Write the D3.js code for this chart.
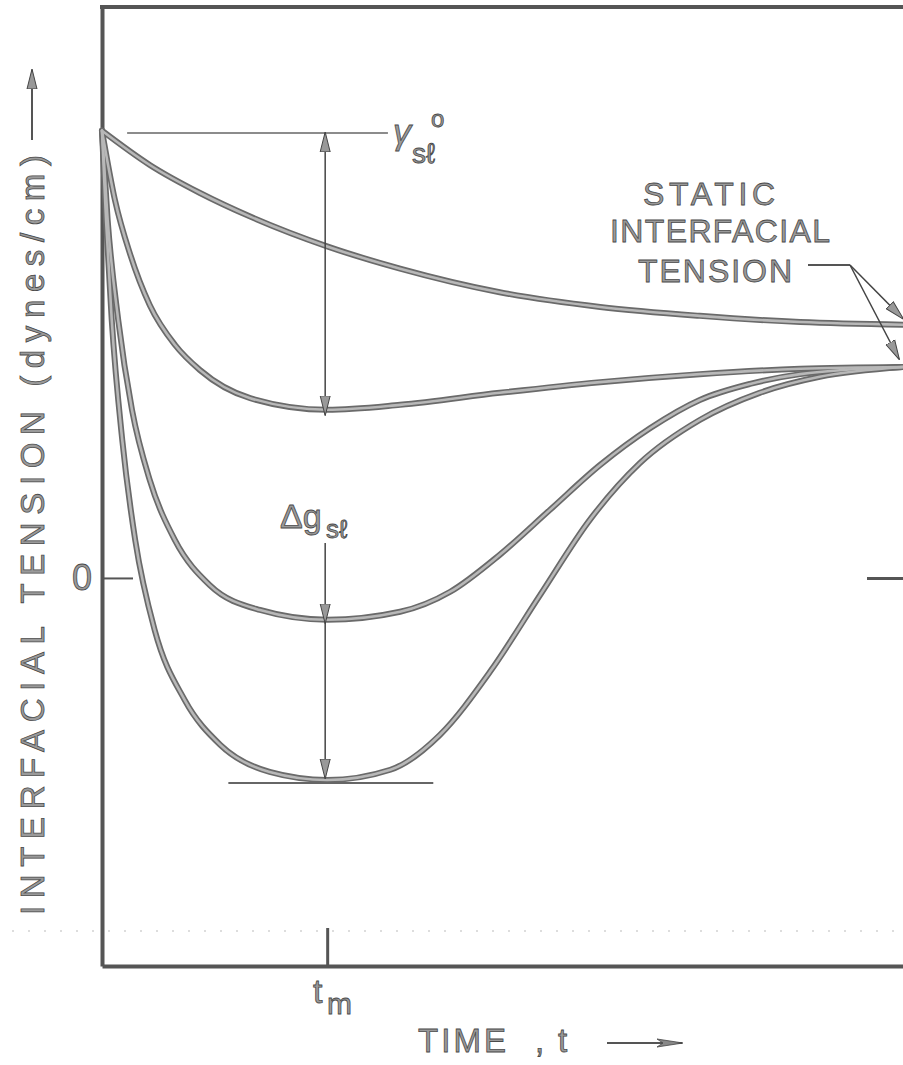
<!DOCTYPE html>
<html>
<head>
<meta charset="utf-8">
<script src="https://cdn.jsdelivr.net/npm/d3@7"></script>
<style>
  body { margin: 0; background: #fff; }
  svg { display: block; }
  text { font-family: "Liberation Sans", Arial, sans-serif; fill: #9a9a9a; stroke: #4a4a4a; stroke-width: 0.8; }
</style>
</head>
<body>
<script>
// interfacial tension vs time, four curves: [time, tension]
const curveA = [[0,10.05],[0.59,9.28],[1.21,8.65],[1.83,8.12],[2.78,7.45],[3.68,6.95],[4.91,6.42],[6.15,6.09],[7.38,5.89],[8.62,5.75],[9.89,5.69]]
const curveB = [[0,10.05],[0.16,8.49],[0.35,7.26],[0.59,6.13],[0.90,5.24],[1.21,4.67],[1.83,4.04],[2.78,3.78],[3.68,3.89],[4.91,4.16],[6.15,4.40],[7.38,4.58],[8.62,4.70],[9.89,4.74]]
const curveC = [[0,10.05],[0.07,8.04],[0.20,5.80],[0.37,3.78],[0.59,2.20],[0.90,0.85],[1.33,-0.16],[1.95,-0.72],[2.78,-0.94],[3.68,-0.76],[4.30,-0.31],[4.91,0.52],[5.53,1.53],[6.15,2.54],[6.77,3.37],[7.38,4.0],[8.0,4.36],[8.62,4.58],[9.89,4.74]]
const curveD = [[0,10.05],[0.05,8.04],[0.12,5.80],[0.25,3.10],[0.41,0.85],[0.65,-1.17],[1.02,-2.74],[1.46,-3.75],[2.07,-4.36],[2.78,-4.54],[3.56,-4.31],[4.17,-3.53],[4.79,-2.11],[5.41,-0.38],[6.02,1.30],[6.64,2.58],[7.38,3.55],[8.12,4.16],[8.86,4.52],[9.89,4.74]]
const curves = [curveA, curveB, curveC, curveD]

const gamma0 = 10      // initial tension
const tm = 2.78        // time of minimum
const minB = 3.78, minC = -0.94, minD = -4.54
const staticA = 5.69, staticB = 4.74

const width = 903, height = 1065

const svg = d3.select("body").append("svg")
    .attr("width", width)
    .attr("height", height)

const x = d3.scaleLinear().domain([0, 10]).range([102, 912])
const y = d3.scaleLinear().domain([-8.72, 12.83]).range([966, 7])

const defs = svg.append("defs")
defs.append("marker")
    .attr("id", "head")
    .attr("markerUnits", "userSpaceOnUse")
    .attr("viewBox", "0 0 20 12")
    .attr("markerWidth", 20).attr("markerHeight", 12)
    .attr("refX", 19).attr("refY", 6)
    .attr("orient", "auto-start-reverse")
  .append("path")
    .attr("d", "M0,1 L20,6 L0,11 Z")
    .attr("fill", "#999").attr("stroke", "#444").attr("stroke-width", 1)
defs.append("marker")
    .attr("id", "thin")
    .attr("markerUnits", "userSpaceOnUse")
    .attr("viewBox", "0 0 26 10")
    .attr("markerWidth", 26).attr("markerHeight", 10)
    .attr("refX", 25).attr("refY", 5)
    .attr("orient", "auto")
  .append("path")
    .attr("d", "M0,1 L26,5 L0,9 L6,5 Z")
    .attr("fill", "#888").attr("stroke", "#444").attr("stroke-width", 0.8)

// faint scan line
svg.append("line")
    .attr("x1", x(0) - 90).attr("x2", width)
    .attr("y1", 931).attr("y2", 931)
    .attr("stroke", "#bbb").attr("stroke-width", 1)
    .attr("stroke-dasharray", "2 14")

// axes
const frameStyle = g => g.select(".domain").attr("stroke", "#555").attr("stroke-width", 4)

svg.append("g")
    .attr("transform", `translate(${x(0)},0)`)
    .call(d3.axisLeft(y).tickValues([0]).tickSize(-31).tickSizeOuter(0).tickPadding(10).tickFormat(d3.format("d")))
    .call(frameStyle)
    .call(g => g.selectAll(".tick line").attr("stroke", "#555").attr("stroke-width", 2))
    .call(g => g.selectAll(".tick text").attr("font-size", 36).attr("fill", "#9a9a9a").attr("font-family", null))

svg.append("g")
    .attr("transform", `translate(0,${y(-8.72)})`)
    .call(d3.axisBottom(x).tickValues([tm]).tickSize(-38).tickSizeOuter(0).tickFormat(""))
    .call(frameStyle)
    .call(g => g.selectAll(".tick line").attr("stroke", "#555").attr("stroke-width", 3))

svg.append("g")
    .attr("transform", `translate(${x(10)},0)`)
    .call(d3.axisRight(y).tickValues([0]).tickSize(-45).tickSizeOuter(0).tickFormat(""))
    .call(frameStyle)
    .call(g => g.selectAll(".tick line").attr("stroke", "#555").attr("stroke-width", 3))

svg.append("line")
    .attr("x1", x(0) - 2).attr("x2", x(10))
    .attr("y1", y(12.83)).attr("y2", y(12.83))
    .attr("stroke", "#555").attr("stroke-width", 4)

// curves
const line = d3.line()
    .x(d => x(d[0]))
    .y(d => y(d[1]))
    .curve(d3.curveMonotoneX)

const cg = svg.append("g").attr("fill", "none").attr("stroke-linecap", "round")
cg.selectAll("path.outer")
  .data(curves)
  .join("path")
    .attr("class", "outer")
    .attr("d", line)
    .attr("stroke", "#6a6a6a")
    .attr("stroke-width", 6)
cg.selectAll("path.inner")
  .data(curves)
  .join("path")
    .attr("class", "inner")
    .attr("d", line)
    .attr("stroke", "#b8b8b8")
    .attr("stroke-width", 2.6)

// gamma zero reference line and dimension arrows
const ax = x(tm) - 2
svg.append("line")
    .attr("x1", x(0.31)).attr("x2", x(3.53))
    .attr("y1", y(gamma0)).attr("y2", y(gamma0))
    .attr("stroke", "#666").attr("stroke-width", 1.5)
svg.append("line")
    .attr("x1", x(1.56)).attr("x2", x(4.09))
    .attr("y1", y(minD) + 3).attr("y2", y(minD) + 3)
    .attr("stroke", "#666").attr("stroke-width", 2)

svg.append("line")
    .attr("x1", ax).attr("x2", ax)
    .attr("y1", y(gamma0)).attr("y2", y(minB) + 5)
    .attr("stroke", "#444").attr("stroke-width", 1.5)
    .attr("marker-start", "url(#head)")
    .attr("marker-end", "url(#head)")
svg.append("line")
    .attr("x1", ax).attr("x2", ax)
    .attr("y1", 543).attr("y2", y(minC) + 3)
    .attr("stroke", "#444").attr("stroke-width", 1.5)
    .attr("marker-end", "url(#head)")
svg.append("line")
    .attr("x1", ax).attr("x2", ax)
    .attr("y1", y(minC) + 3).attr("y2", y(minD) - 2)
    .attr("stroke", "#444").attr("stroke-width", 1.5)
    .attr("marker-end", "url(#head)")

// labels
const gl = svg.append("text").attr("x", 393).attr("y", 144).attr("font-size", 36)
gl.append("tspan").attr("font-style", "italic").text("γ")
svg.append("text").attr("x", 431).attr("y", 127).attr("font-size", 24).text("o")
svg.append("text").attr("x", 412).attr("y", 163).attr("font-size", 28).text("sℓ")

svg.append("text").attr("x", 280).attr("y", 528).attr("font-size", 34).text("Δg")
svg.append("text").attr("x", 326).attr("y", 538).attr("font-size", 26).text("sℓ")

const st = svg.append("g").attr("font-size", 32)
st.append("text").attr("x", 643).attr("y", 205).attr("textLength", 132).text("STATIC")
st.append("text").attr("x", 610).attr("y", 242).attr("textLength", 220).text("INTERFACIAL")
st.append("text").attr("x", 638).attr("y", 282).attr("textLength", 154).text("TENSION")
svg.append("polyline")
    .attr("points", "808,265 850,265")
    .attr("fill", "none").attr("stroke", "#555").attr("stroke-width", 2)
svg.append("line")
    .attr("x1", 850).attr("y1", 265).attr("x2", x(9.89)).attr("y2", y(staticA) - 6)
    .attr("stroke", "#444").attr("stroke-width", 1.5).attr("marker-end", "url(#head)")
svg.append("line")
    .attr("x1", 850).attr("y1", 265).attr("x2", x(9.84)).attr("y2", y(staticB) - 8)
    .attr("stroke", "#444").attr("stroke-width", 1.5).attr("marker-end", "url(#head)")

// x axis label
svg.append("text").attr("x", 313).attr("y", 1003).attr("font-size", 34).text("t")
svg.append("text").attr("x", 327).attr("y", 1014).attr("font-size", 30).text("m")

svg.append("text").attr("x", 418).attr("y", 1052).attr("font-size", 33).attr("textLength", 88).text("TIME")
svg.append("text").attr("x", 535).attr("y", 1052).attr("font-size", 33).text(",")
svg.append("text").attr("x", 558).attr("y", 1052).attr("font-size", 33).text("t")
svg.append("line")
    .attr("x1", 607).attr("x2", 682).attr("y1", 1043).attr("y2", 1043)
    .attr("stroke", "#555").attr("stroke-width", 2).attr("marker-end", "url(#thin)")

// y axis label
svg.append("text")
    .attr("transform", "translate(44,915) rotate(-90)")
    .attr("font-size", 33)
    .attr("textLength", 760)
    .attr("lengthAdjust", "spacing")
    .text("INTERFACIAL TENSION (dynes/cm)")
svg.append("line")
    .attr("x1", 32).attr("x2", 32).attr("y1", 140).attr("y2", 70)
    .attr("stroke", "#555").attr("stroke-width", 2).attr("marker-end", "url(#head)")
</script>
</body>
</html>
